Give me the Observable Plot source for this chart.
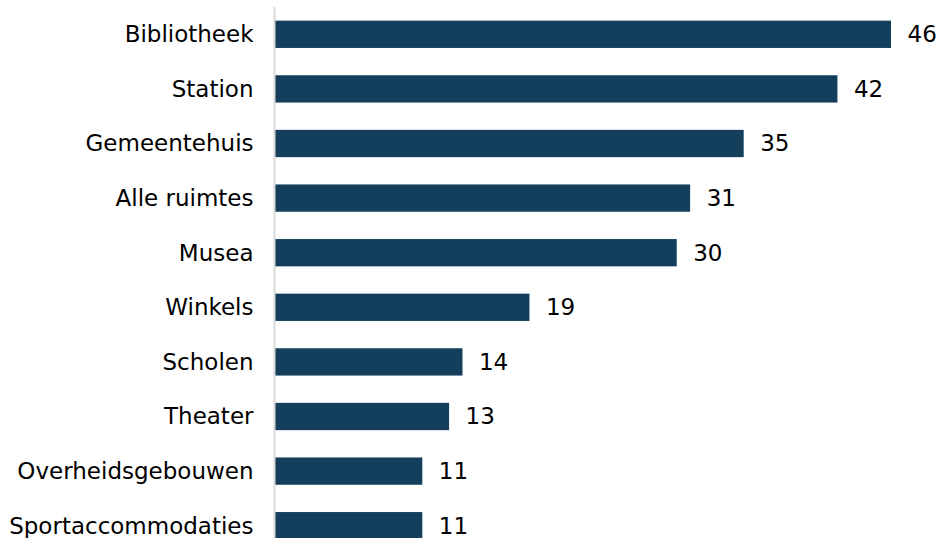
<!DOCTYPE html>
<html>
<head>
<meta charset="utf-8">
<script src="https://cdn.jsdelivr.net/npm/d3@7"></script>
<script src="https://cdn.jsdelivr.net/npm/@observablehq/plot@0.6"></script>
<style>
  html, body { margin: 0; padding: 0; background: #fff; overflow: hidden; }
  svg { display: block; }
</style>
</head>
<body>
<div id="chart"></div>
<script>
const categories = ["Bibliotheek", "Station", "Gemeentehuis", "Alle ruimtes", "Musea", "Winkels", "Scholen", "Theater", "Overheidsgebouwen", "Sportaccommodaties"];
const values = [46, 42, 35, 31, 30, 19, 14, 13, 11, 11];

const data = categories.map((c, i) => ({category: c, value: values[i]}));

const chart = Plot.plot({
  width: 940,
  height: 553,
  marginLeft: 275,
  marginRight: 49,
  marginTop: 7,
  marginBottom: 0,
  style: {fontFamily: "'DejaVu Sans', sans-serif", fontSize: "23px", color: "#000", background: "#fff"},
  x: {domain: [0, 46], axis: null},
  y: {domain: categories, paddingInner: 0.5, paddingOuter: 0.25, round: false, label: null, tickSize: 0, tickPadding: 22},
  marks: [
    Plot.barX(data, {x: "value", y: "category", fill: "#133f5c"}),
    Plot.ruleX([0], {stroke: "#d9d9d9", strokeWidth: 2, dx: -1}),
    Plot.text(data, {x: "value", y: "category", text: d => String(d.value), textAnchor: "start", dx: 16, fill: "#000", fontSize: 23}),
    Plot.axisY({tickSize: 0, tickPadding: 22, label: null, fontSize: 23})
  ]
});
document.getElementById("chart").appendChild(chart);
</script>
</body>
</html>
